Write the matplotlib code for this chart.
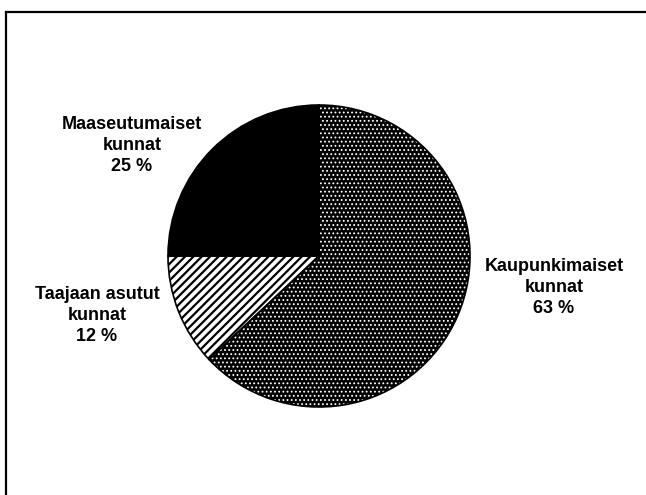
import matplotlib
matplotlib.use("Agg")
import matplotlib.pyplot as plt
from matplotlib.lines import Line2D
from matplotlib.patches import Wedge

plt.rcParams['hatch.linewidth'] = 1.0

categories = ["Kaupunkimaiset\nkunnat", "Taajaan asutut\nkunnat", "Maaseutumaiset\nkunnat"]
values = [63, 12, 25]

W, H = 646, 495
fig = plt.figure(figsize=(W / 100, H / 100), dpi=100)
ax = fig.add_axes([0, 0, 1, 1])

cx, cy, r = 319, H - 256, 151

wedges, _ = ax.pie(values, startangle=90, counterclock=False, center=(cx, cy), radius=r,
                   wedgeprops=dict(linewidth=0))
styles = [
    dict(facecolor="black", edgecolor="white", hatch="....", hlw=0.8),
    dict(facecolor="white", edgecolor="black", hatch="////", hlw=1.6),
    dict(facecolor="black", edgecolor="black", hatch=None, hlw=1.0),
]
for w, st in zip(wedges, styles):
    w.set_facecolor(st["facecolor"])
    w.set_edgecolor(st["edgecolor"])
    if st["hatch"]:
        w.set_hatch(st["hatch"])
        if hasattr(w, "set_hatch_linewidth"):
            w.set_hatch_linewidth(st["hlw"])
    w.set_linewidth(0)
    ax.add_patch(Wedge(w.center, w.r, w.theta1, w.theta2, facecolor="none",
                       edgecolor="black", linewidth=1.2))

ax.set_xlim(0, W)
ax.set_ylim(0, H)
ax.set_aspect("auto")
ax.axis("off")

label_pos = [(554, 258), (97, 286), (132, 116)]
for (lx, ly), cat, v in zip(label_pos, categories, values):
    ax.text(lx, H - ly, f"{cat}\n{v} %", ha="center", va="top", fontsize=13,
            family="Liberation Sans", fontweight="bold", linespacing=1.3)

fig.add_artist(Line2D([6 / W, 6 / W], [0, 1 - 12 / H], color="black", linewidth=1.6,
                      transform=fig.transFigure))
fig.add_artist(Line2D([6 / W, 1], [1 - 12 / H, 1 - 12 / H], color="black", linewidth=1.6,
                      transform=fig.transFigure))

fig.savefig("out.png", dpi=100)
